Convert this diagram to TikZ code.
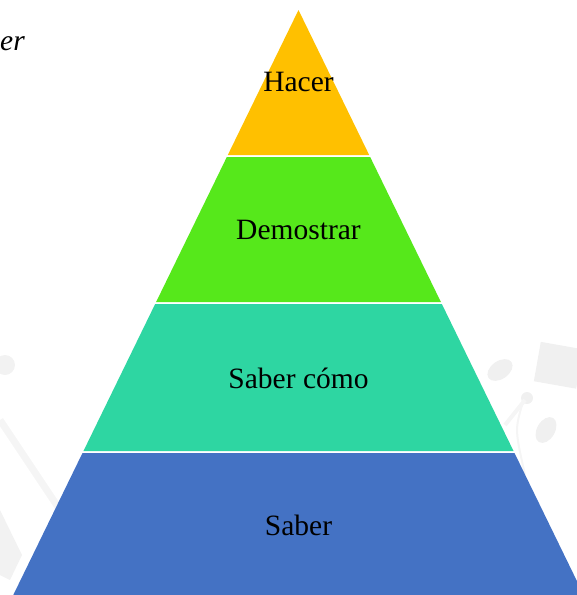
\documentclass[tikz,border=0pt]{standalone}
\usepackage{fontspec}
\setmainfont{Liberation Serif}
\begin{document}
\begin{tikzpicture}[x=1pt,y=-1pt,
  lbl/.style={font=\fontsize{29.5}{34}\selectfont, text=black, inner sep=0pt},
  wm/.style={fill=black!6, draw=none}]
\useasboundingbox (0,0) rectangle (577,595);
\clip (0,0) rectangle (577,595);
% faint watermark
\fill[wm, rotate around={-10:(557,365)}] (537,345) rectangle (580,385);
\fill[wm, rotate around={35:(500,370)}] (500,370) ellipse (14 and 9);
\fill[wm, rotate around={60:(546,430)}] (546,430) ellipse (14 and 9);
\fill[wm] (527,398) circle (6);
\draw[black!4, line width=4pt] (525,400) -- (505,425);
\draw[black!4, line width=2pt] (522,405) .. controls (515,430) .. (525,475);
\fill[black!5] (5,365) circle (10);
\draw[black!4, line width=7pt] (0,420) -- (60,510);
\fill[black!5] (0,510) -- (22,555) -- (10,580) -- (0,575) -- cycle;
% pyramid bands
\def\cx{298.5}
\def\sl{0.4876}
\fill[fill={rgb,255:red,255;green,192;blue,0}] (\cx,10) -- ({\cx+\sl*145},155) -- ({\cx-\sl*145},155) -- cycle;
\fill[fill={rgb,255:red,86;green,232;blue,27}] ({\cx-\sl*147},157) -- ({\cx+\sl*147},157) -- ({\cx+\sl*292},302) -- ({\cx-\sl*292},302) -- cycle;
\fill[fill={rgb,255:red,46;green,214;blue,162}] ({\cx-\sl*294},304) -- ({\cx+\sl*294},304) -- ({\cx+\sl*441},451) -- ({\cx-\sl*441},451) -- cycle;
\fill[fill={rgb,255:red,68;green,114;blue,196}] ({\cx-\sl*443},453) -- ({\cx+\sl*443},453) -- ({\cx+\sl*600},610) -- ({\cx-\sl*600},610) -- cycle;
\node[lbl] (hacer) at (298.5,82) {Hacer};
\node[lbl] (demostrar) at (298.5,230) {Demostrar};
\node[lbl] (sabercomo) at (298.5,378) {Saber cómo};
\node[lbl] (saber) at (298.5,525) {Saber};
\node[lbl, font=\fontsize{29.5}{34}\selectfont\itshape, anchor=base west] (er) at (0,50) {er};
\end{tikzpicture}
\end{document}
